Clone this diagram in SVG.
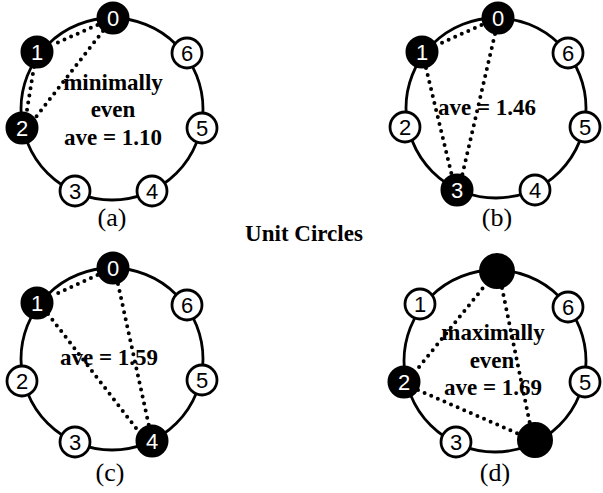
<svg xmlns="http://www.w3.org/2000/svg" width="603" height="493" viewBox="0 0 603 493">
<style>
.ring{fill:none;stroke:#000;stroke-width:2.8}
.dot{fill:none;stroke:#000;stroke-width:4;stroke-linecap:round;stroke-dasharray:0 7.2}
.nw{fill:#fff;stroke:#000;stroke-width:2.8}
.nb{fill:#000;stroke:#000;stroke-width:2}
.dw{font-family:"Liberation Sans",Arial,sans-serif;font-size:22px;fill:#000;text-anchor:middle}
.db{font-family:"Liberation Sans",Arial,sans-serif;font-size:22px;fill:#fff;text-anchor:middle}
.t{font-family:"Liberation Serif","Times New Roman",serif;font-weight:bold;font-size:23px;fill:#000;text-anchor:middle}
.cap{font-family:"Liberation Serif","Times New Roman",serif;font-size:26px;fill:#000;text-anchor:middle}
</style>
<rect width="603" height="493" fill="#fff"/>

<!-- Panel (a) -->
<g id="panel-a">
  <circle class="ring" cx="112" cy="109" r="91"/>
  <g id="connectors-a">
    <line class="dot" x1="104" y1="22" x2="52" y2="45"/>
    <line class="dot" x1="103" y1="31" x2="32" y2="122"/>
    <line class="dot" x1="34" y1="67" x2="26" y2="116"/>
  </g>
  <text class="t" x="113" y="90">minimally</text>
  <text class="t" x="113" y="117">even</text>
  <text class="t" x="113" y="145">ave = 1.10</text>
  <g id="a-n0"><circle class="nb" cx="113" cy="18" r="15.5"/><text class="db" x="113" y="26">0</text></g>
  <g id="a-n1"><circle class="nb" cx="37" cy="52" r="15.5"/><text class="db" x="37" y="60">1</text></g>
  <g id="a-n2"><circle class="nb" cx="22" cy="128" r="15.5"/><text class="db" x="22" y="136">2</text></g>
  <g id="a-n3"><circle class="nw" cx="75" cy="191" r="15"/><text class="dw" x="75" y="199">3</text></g>
  <g id="a-n4"><circle class="nw" cx="152" cy="191" r="15"/><text class="dw" x="152" y="199">4</text></g>
  <g id="a-n5"><circle class="nw" cx="202" cy="128" r="15"/><text class="dw" x="202" y="136">5</text></g>
  <g id="a-n6"><circle class="nw" cx="187" cy="53" r="15"/><text class="dw" x="187" y="61">6</text></g>
  <text class="cap" x="112" y="226">(a)</text>
</g>

<!-- Panel (b) -->
<g id="panel-b">
  <circle class="ring" cx="496" cy="108" r="90"/>
  <g id="connectors-b">
    <line class="dot" x1="488" y1="22" x2="437" y2="45"/>
    <line class="dot" x1="495" y1="34" x2="462" y2="176"/>
    <line class="dot" x1="426" y1="68" x2="452" y2="176"/>
  </g>
  <text class="t" x="487" y="115">ave = 1.46</text>
  <g id="b-n0"><circle class="nb" cx="498" cy="18" r="15.5"/><text class="db" x="498" y="26">0</text></g>
  <g id="b-n1"><circle class="nb" cx="422" cy="52" r="15.5"/><text class="db" x="422" y="60">1</text></g>
  <g id="b-n2"><circle class="nw" cx="405" cy="127" r="15"/><text class="dw" x="405" y="135">2</text></g>
  <g id="b-n3"><circle class="nb" cx="457" cy="190" r="15.5"/><text class="db" x="457" y="198">3</text></g>
  <g id="b-n4"><circle class="nw" cx="535" cy="190" r="15"/><text class="dw" x="535" y="198">4</text></g>
  <g id="b-n5"><circle class="nw" cx="585" cy="127" r="15"/><text class="dw" x="585" y="135">5</text></g>
  <g id="b-n6"><circle class="nw" cx="568" cy="53" r="15"/><text class="dw" x="568" y="61">6</text></g>
  <text class="cap" x="497" y="226">(b)</text>
</g>

<text class="t" x="304" y="241">Unit Circles</text>

<!-- Panel (c) -->
<g id="panel-c">
  <circle class="ring" cx="112" cy="359" r="91"/>
  <g id="connectors-c">
    <line class="dot" x1="104" y1="272" x2="52" y2="296"/>
    <line class="dot" x1="118" y1="284" x2="149" y2="426"/>
    <line class="dot" x1="48" y1="314" x2="139" y2="432"/>
  </g>
  <text class="t" x="109" y="365">ave = 1.59</text>
  <g id="c-n0"><circle class="nb" cx="113" cy="268" r="15.5"/><text class="db" x="113" y="276">0</text></g>
  <g id="c-n1"><circle class="nb" cx="37" cy="303" r="15.5"/><text class="db" x="37" y="311">1</text></g>
  <g id="c-n2"><circle class="nw" cx="22" cy="381" r="15"/><text class="dw" x="22" y="389">2</text></g>
  <g id="c-n3"><circle class="nw" cx="75" cy="442" r="15"/><text class="dw" x="75" y="450">3</text></g>
  <g id="c-n4"><circle class="nb" cx="152" cy="441" r="15.5"/><text class="db" x="152" y="449">4</text></g>
  <g id="c-n5"><circle class="nw" cx="202" cy="380" r="15"/><text class="dw" x="202" y="388">5</text></g>
  <g id="c-n6"><circle class="nw" cx="187" cy="305" r="15"/><text class="dw" x="187" y="313">6</text></g>
  <text class="cap" x="110" y="481">(c)</text>
</g>

<!-- Panel (d) -->
<g id="panel-d">
  <circle class="ring" cx="495" cy="361" r="91"/>
  <g id="connectors-d">
    <line class="dot" x1="487" y1="283" x2="415" y2="372"/>
    <line class="dot" x1="502" y1="288" x2="530" y2="424"/>
    <line class="dot" x1="418" y1="390" x2="519" y2="434"/>
  </g>
  <text class="t" x="493" y="340">maximally</text>
  <text class="t" x="492" y="368">even</text>
  <text class="t" x="493" y="395">ave = 1.69</text>
  <g id="d-n0"><circle class="nb" cx="497" cy="271" r="17"/></g>
  <g id="d-n1"><circle class="nw" cx="420" cy="304" r="15"/><text class="dw" x="420" y="312">1</text></g>
  <g id="d-n2"><circle class="nb" cx="404" cy="382" r="15.5"/><text class="db" x="404" y="390">2</text></g>
  <g id="d-n3"><circle class="nw" cx="456" cy="442" r="15"/><text class="dw" x="456" y="450">3</text></g>
  <g id="d-n4"><circle class="nb" cx="535" cy="440" r="17"/></g>
  <g id="d-n5"><circle class="nw" cx="585" cy="382" r="15"/><text class="dw" x="585" y="390">5</text></g>
  <g id="d-n6"><circle class="nw" cx="568" cy="307" r="15"/><text class="dw" x="568" y="315">6</text></g>
  <text class="cap" x="495" y="481">(d)</text>
</g>
</svg>
